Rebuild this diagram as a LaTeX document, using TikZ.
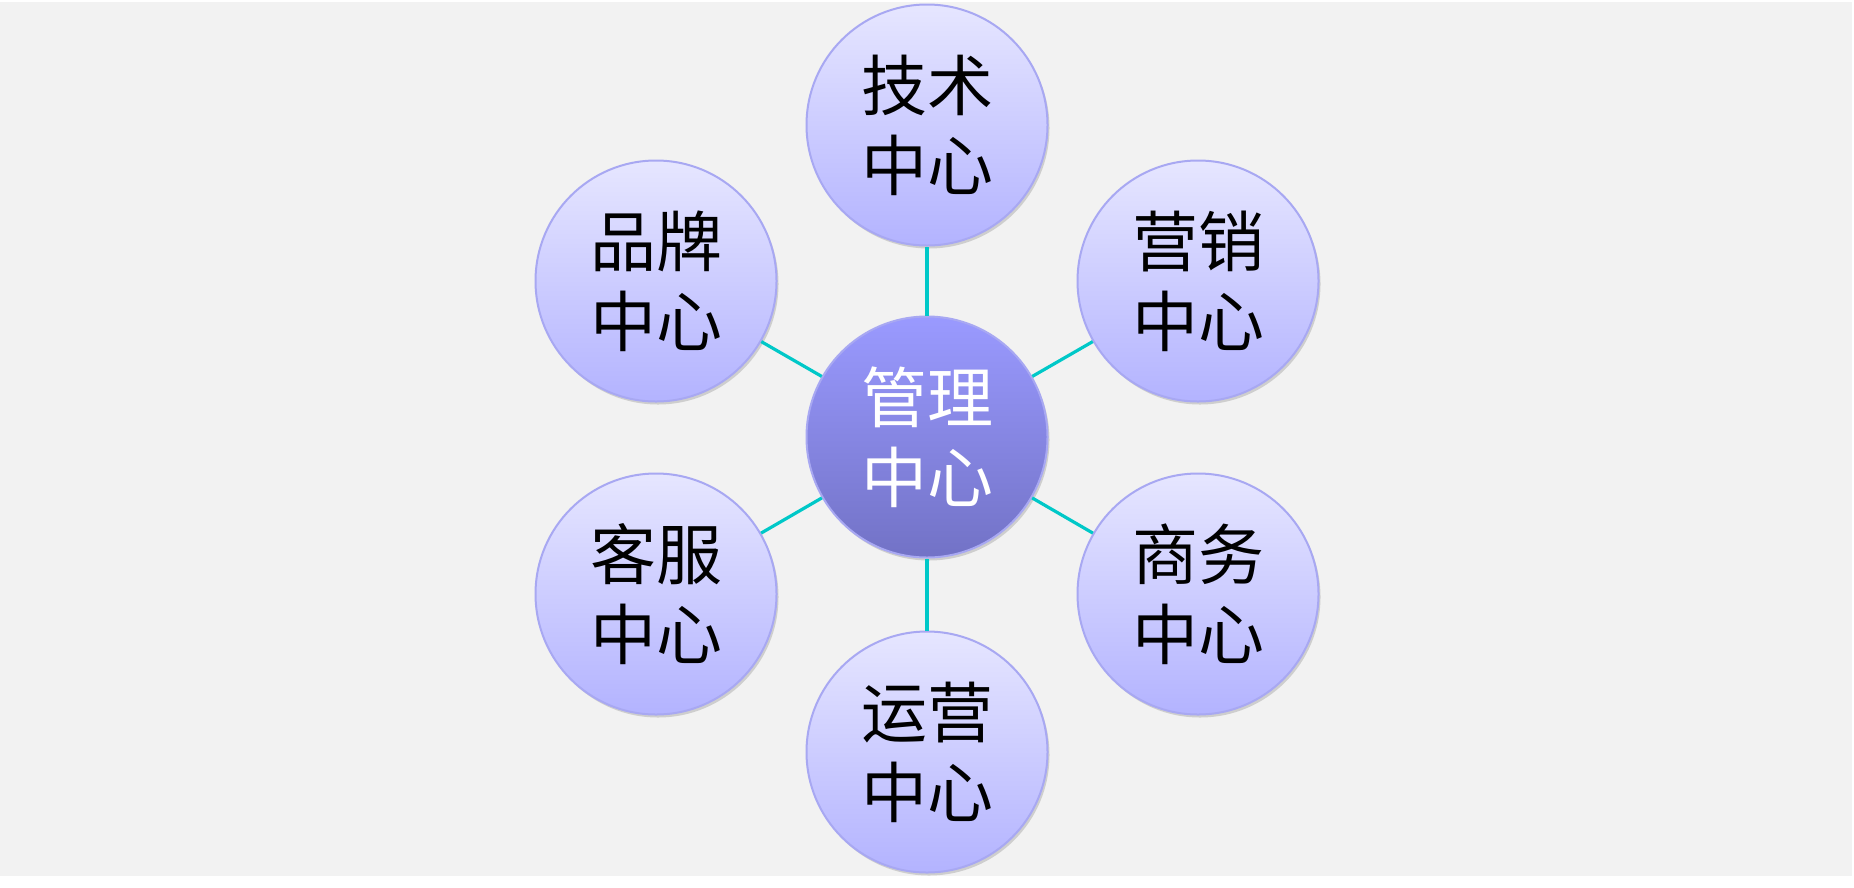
\documentclass[tikz,border=0pt]{standalone}
\usepackage{fontspec}
\newfontfamily\cjk{Noto Sans CJK SC}
\usetikzlibrary{shadows}
\definecolor{bggray}{HTML}{F2F2F2}
\definecolor{sattop}{HTML}{E6E6FF}
\definecolor{satbot}{HTML}{B3B3FF}
\definecolor{ctop}{HTML}{9A9AFF}
\definecolor{cbot}{HTML}{7272C6}
\definecolor{ring}{HTML}{A8A8F2}
\definecolor{link}{HTML}{00C8C8}
\tikzset{
  bubble/.style={circle, minimum size=241pt, inner sep=0pt, draw=ring, line width=2pt,
    top color=sattop, bottom color=satbot,
    drop shadow={shadow xshift=2pt, shadow yshift=-3pt, opacity=0.25, fill=black!60},
    font=\cjk\fontsize{66pt}{80pt}\selectfont, align=center, text=black},
  hub/.style={bubble, top color=ctop, bottom color=cbot, text=white},
  linkline/.style={draw=link, line width=3.2pt}
}
\begin{document}
\begin{tikzpicture}[x=1pt,y=-1pt]
\useasboundingbox (0,0) rectangle (1854,887);
\fill[bggray] (0,2) rectangle (1852,876);
\node[hub] (c) at (927,437) {管理\\中心};
\node[bubble] (t) at (927,125) {技术\\中心};
\node[bubble] (ur) at (1198,281) {营销\\中心};
\node[bubble] (lr) at (1198,594) {商务\\中心};
\node[bubble] (b) at (927,752) {运营\\中心};
\node[bubble] (ll) at (656,594) {客服\\中心};
\node[bubble] (ul) at (656,281) {品牌\\中心};
\foreach \s in {t,ur,lr,b,ll,ul} \draw[linkline] (c) -- (\s);
\end{tikzpicture}
\end{document}
